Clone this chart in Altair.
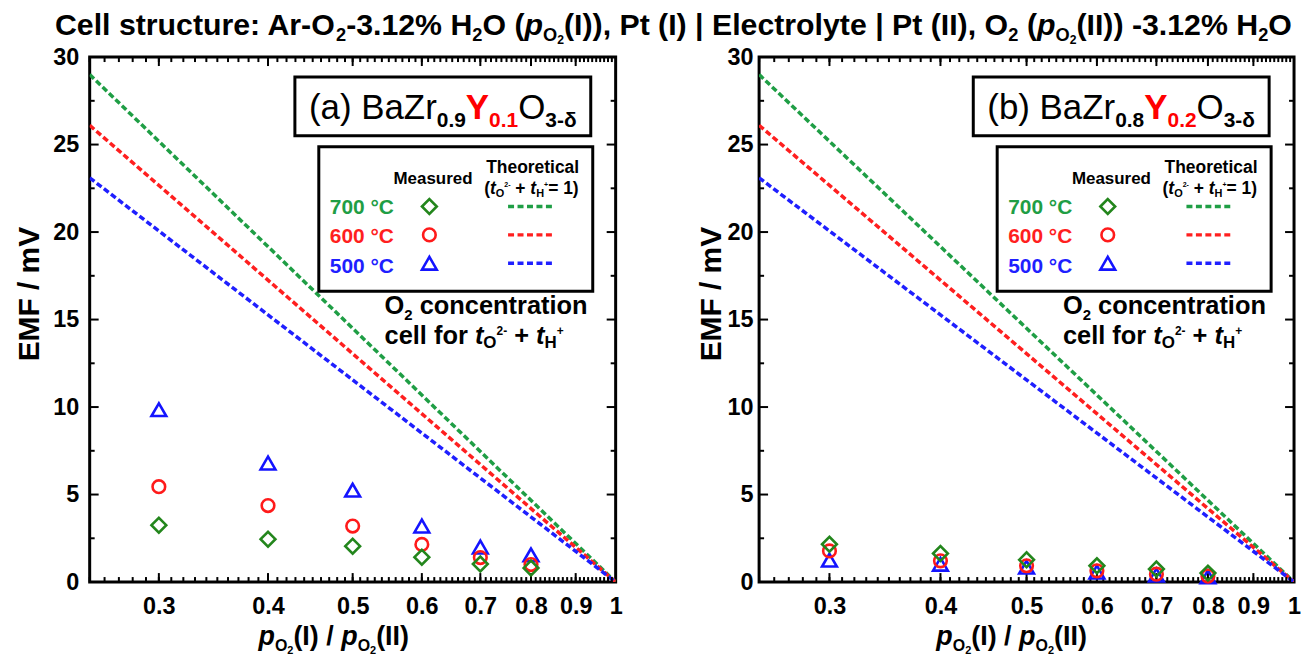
import altair as alt
import pandas as pd

FONT = "Liberation Sans"

# ---------------- data ----------------
RATIO = [0.3, 0.4, 0.5, 0.6, 0.7, 0.8]
A_700 = [3.25, 2.45, 2.05, 1.42, 1.03, 0.80]
A_600 = [5.45, 4.37, 3.20, 2.15, 1.40, 1.00]
A_500 = [9.85, 6.80, 5.25, 3.20, 2.00, 1.55]
B_700 = [2.16, 1.63, 1.27, 0.93, 0.74, 0.51]
B_600 = [1.78, 1.21, 0.93, 0.64, 0.45, 0.34]
B_500 = [1.25, 1.02, 0.85, 0.57, 0.40, 0.30]
THEO_X = [0.25, 1.0]
THEO_700 = [29.0, 0.0]
THEO_600 = [26.1, 0.0]
THEO_500 = [23.1, 0.0]
TEMPS = ["700", "600", "500"]
X_LABELS = [0.3, 0.4, 0.5, 0.6, 0.7, 0.8, 0.9, 1.0]
X_MAJOR_TICKS = [0.3, 0.4, 0.5, 0.6, 0.7, 0.8, 0.9]
X_MINOR_TICKS = [round(0.25 + 0.01 * i, 2) for i in range(75)]
Y_LABELS = [0, 5, 10, 15, 20, 25, 30]
Y_MAJOR_TICKS = [5, 10, 15, 20, 25]
Y_MINOR_TICKS = [2.5, 7.5, 12.5, 17.5, 22.5, 27.5]

LINE_COL = {"700": "#1f9e45", "600": "#ff1f1f", "500": "#1f1fff"}
MARK_COL = {"700": "#23861c", "600": "#ff1a1a", "500": "#1414ff"}
SHAPE = {"700": "diamond", "600": "circle", "500": "triangle-up"}
MSIZE = {"700": 220, "600": 160, "500": 220}

# ---------------- font metrics (Arial-compatible) ----------------
REG_W = {' ': 278, '!': 278, '%': 889, '(': 333, ')': 333, '+': 584, ',': 278, '-': 333, '.': 278,
         '/': 278, ':': 278, '=': 584, '|': 260, '°': 400, 'δ': 556,
         'A': 667, 'B': 667, 'C': 722, 'E': 667, 'F': 611, 'H': 722, 'I': 278, 'M': 833, 'O': 778,
         'P': 667, 'T': 611, 'V': 667, 'Y': 667, 'Z': 611,
         'a': 556, 'c': 500, 'd': 556, 'e': 556, 'f': 278, 'h': 556, 'i': 222, 'l': 222, 'm': 833,
         'n': 556, 'o': 556, 'p': 556, 'r': 333, 's': 500, 't': 278, 'u': 556, 'y': 500}
BOLD_W = {' ': 278, '!': 333, '%': 889, '(': 333, ')': 333, '+': 584, ',': 278, '-': 333, '.': 278,
          '/': 278, ':': 333, '=': 584, '|': 280, '°': 400, 'δ': 611,
          'A': 722, 'B': 722, 'C': 722, 'E': 667, 'F': 611, 'H': 722, 'I': 278, 'M': 833, 'O': 778,
          'P': 667, 'T': 611, 'V': 667, 'Y': 667, 'Z': 611,
          'a': 556, 'c': 556, 'd': 611, 'e': 556, 'f': 333, 'h': 611, 'i': 278, 'l': 278, 'm': 889,
          'n': 611, 'o': 611, 'p': 611, 'r': 389, 's': 556, 't': 333, 'u': 611, 'y': 556}


def tw(s, size, bold):
    t = BOLD_W if bold else REG_W
    return sum(t.get(c, 556) for c in s) * size / 1000.0


def run(segs, x0, y0, anchor="left"):
    """segs: (text, size, bold, italic, color, dy)"""
    widths = [tw(s[0], s[1], s[2]) for s in segs]
    total = sum(widths)
    x = x0 - total / 2 if anchor == "center" else x0
    rows = []
    for s, w in zip(segs, widths):
        txt = s[0]
        lead = len(txt) - len(txt.lstrip(" "))
        disp = txt.strip(" ")
        if disp:
            rows.append(dict(txt=disp, px=x + tw(" " * lead, s[1], s[2]), py=y0 + s[5],
                             fs=s[1], col=s[4], b=s[2], it=s[3]))
        x += w
    return rows


def text_layers(rows):
    df = pd.DataFrame(rows)
    out = []
    for (b, it), g in df.groupby(["b", "it"]):
        out.append(
            alt.Chart(g.reset_index(drop=True)).mark_text(
                align="left", baseline="alphabetic", font=FONT,
                fontWeight="bold" if b else "normal",
                fontStyle="italic" if it else "normal",
            ).encode(
                x=alt.X("px:Q", scale=None, axis=None),
                y=alt.Y("py:Q", scale=None, axis=None),
                text="txt:N",
                size=alt.Size("fs:Q", scale=None, legend=None),
                color=alt.Color("col:N", scale=None, legend=None),
            )
        )
    return out


K = "black"
H = 527
XS = alt.Scale(type="log", domain=[0.25, 1.0], nice=False)
YS = alt.Scale(domain=[0, 30], nice=False, zero=False)
XAX = alt.Axis(values=X_LABELS, format=".1~f", labelPadding=13, labelFlush=False,
               labelOverlap=False, title=None)
DUMMY = pd.DataFrame({"d": [0]})


def panel(W, meas, letter, zr, yv, title_rows, lab_pad, ytitle_x, xtitle_dx):
    YAX = alt.Axis(values=Y_LABELS, labelPadding=lab_pad, labelOverlap=False, title=None)
    layers = []
    theo = {"700": THEO_700, "600": THEO_600, "500": THEO_500}
    # theoretical dashed lines
    for t in TEMPS:
        df = pd.DataFrame({"x": THEO_X, "y": theo[t]})
        layers.append(alt.Chart(df).mark_line(strokeDash=[6, 3], strokeWidth=3.5, color=LINE_COL[t],
                                              clip=True)
                      .encode(x=alt.X("x:Q", scale=XS, axis=XAX), y=alt.Y("y:Q", scale=YS, axis=YAX)))
    # ticks (inward)
    for vals, ln in [(X_MAJOR_TICKS, 9), (X_MINOR_TICKS, 5)]:
        d = pd.DataFrame({"x": vals})
        layers.append(alt.Chart(d).mark_rule(color=K, strokeWidth=2)
                      .encode(x=alt.X("x:Q", scale=XS, axis=XAX), y=alt.value(H), y2=alt.value(H - ln)))
        layers.append(alt.Chart(d).mark_rule(color=K, strokeWidth=2)
                      .encode(x=alt.X("x:Q", scale=XS, axis=XAX), y=alt.value(0), y2=alt.value(ln)))
    for vals, ln in [(Y_MAJOR_TICKS, 9), (Y_MINOR_TICKS, 5)]:
        d = pd.DataFrame({"y": vals})
        layers.append(alt.Chart(d).mark_rule(color=K, strokeWidth=2)
                      .encode(y=alt.Y("y:Q", scale=YS, axis=YAX), x=alt.value(0), x2=alt.value(ln)))
        layers.append(alt.Chart(d).mark_rule(color=K, strokeWidth=2)
                      .encode(y=alt.Y("y:Q", scale=YS, axis=YAX), x=alt.value(W), x2=alt.value(W - ln)))
    # measured points (500 first, 700 on top)
    for t in ["500", "600", "700"]:
        df = pd.DataFrame({"x": RATIO, "y": meas[t]})
        layers.append(alt.Chart(df).mark_point(shape=SHAPE[t], filled=False, size=MSIZE[t],
                                               strokeWidth=2.6, color=MARK_COL[t], opacity=1)
                      .encode(x=alt.X("x:Q", scale=XS, axis=XAX), y=alt.Y("y:Q", scale=YS, axis=YAX)))
    # boxes
    for (x1, x2, y1, y2) in [(W - 322, W - 25, 20, 79), (W - 298, W - 23, 90, 235)]:
        layers.append(alt.Chart(DUMMY).mark_rect(fill="white", stroke=K, strokeWidth=3)
                      .encode(x=alt.value(x1), x2=alt.value(x2), y=alt.value(y1), y2=alt.value(y2)))
    # legend markers and dashes
    for i, t in enumerate(TEMPS):
        yy = 150 + 28.5 * i
        layers.append(alt.Chart(DUMMY).mark_point(shape=SHAPE[t], filled=False, size=MSIZE[t],
                                                  strokeWidth=2.6, color=MARK_COL[t], opacity=1)
                      .encode(x=alt.value(W - 187), y=alt.value(yy)))
        layers.append(alt.Chart(DUMMY).mark_rule(strokeDash=[6, 3.5], strokeWidth=3.5, color=LINE_COL[t])
                      .encode(x=alt.value(W - 108), x2=alt.value(W - 62), y=alt.value(yy)))
    # y axis title
    layers.append(alt.Chart(DUMMY).mark_text(text="EMF / mV", angle=270, align="center", baseline="middle",
                                             font=FONT, fontSize=30, fontWeight="bold", color=K)
                  .encode(x=alt.value(ytitle_x), y=alt.value(238)))
    # texts
    rows = list(title_rows)
    BIG, SUB = 35, 21
    rows += run([(f"({letter}) BaZr", BIG, False, False, K, 0),
                 (zr, SUB, True, False, K, 8),
                 ("Y", BIG, True, False, "#ff0000", 0),
                 (yv, SUB, True, False, "#ff0000", 8),
                 ("O", BIG, False, False, K, 0),
                 ("3-δ", SUB, True, False, K, 8)], W - 173.5, 62, "center")
    rows += run([("Measured", 17, True, False, K, 0)], W - 223, 127)
    rows += run([("Theoretical", 17.5, True, False, K, 0)], W - 130, 116)
    rows += run([("(", 17.5, True, False, K, 0), ("t", 17.5, True, True, K, 0), ("O", 11, True, False, K, 3),
                 ("2-", 7, True, False, K, -7), (" + ", 17.5, True, False, K, 0), ("t", 17.5, True, True, K, 0),
                 ("H", 11, True, False, K, 3), ("+", 7, True, False, K, -7), ("= 1)", 17.5, True, False, K, 0)],
                W - 132, 137)
    for i, t in enumerate(TEMPS):
        rows += run([(f"{t} °C", 21, True, False, LINE_COL[t], 0)], W - 287, 157.5 + 29.5 * i)
    rows += run([("O", 25.5, True, False, K, 0), ("2", 15, True, False, K, 6),
                 (" concentration", 25.5, True, False, K, 0)], W - 232, 258)
    rows += run([("cell for ", 25.5, True, False, K, 0), ("t", 25.5, True, True, K, 0),
                 ("O", 17, True, False, K, 4), ("2-", 12, True, False, K, -9),
                 (" + ", 25.5, True, False, K, 0), ("t", 25.5, True, True, K, 0),
                 ("H", 17, True, False, K, 4), ("+", 12, True, False, K, -9)], W - 232, 288)
    rows += run([("p", 27, True, True, K, 0), ("O", 16, True, False, K, 6), ("2", 11, True, False, K, 9),
                 ("(I) / ", 27, True, False, K, 0), ("p", 27, True, True, K, 0), ("O", 16, True, False, K, 6),
                 ("2", 11, True, False, K, 9), ("(II)", 27, True, False, K, 0)],
                W / 2 + xtitle_dx, H + 63, "center")
    layers += text_layers(rows)
    return alt.layer(*layers).properties(width=W, height=H)


T, TS, TSS = 30.4, 18.3, 12.2
title_rows = run([
    ("Cell structure: Ar-O", T, True, False, K, 0), ("2", TS, True, False, K, 6),
    ("-3.12% H", T, True, False, K, 0), ("2", TS, True, False, K, 6),
    ("O (", T, True, False, K, 0), ("p", T, True, True, K, 0),
    ("O", TS, True, False, K, 6), ("2", TSS, True, False, K, 9),
    ("(I)), Pt (I) | Electrolyte | Pt (II), O", T, True, False, K, 0), ("2", TS, True, False, K, 6),
    (" (", T, True, False, K, 0), ("p", T, True, True, K, 0),
    ("O", TS, True, False, K, 6), ("2", TSS, True, False, K, 9),
    ("(II)) -3.12% H", T, True, False, K, 0), ("2", TS, True, False, K, 6),
    ("O", T, True, False, K, 0)], 586, -22, "center")

pa = panel(528, {"700": A_700, "600": A_600, "500": A_500}, "a", "0.9", "0.1", title_rows, 11, -60, -19)
pb = panel(537, {"700": B_700, "600": B_600, "500": B_500}, "b", "0.8", "0.2", [], 6, -47, -15)

chart = alt.hconcat(pa, pb, spacing=144, bounds="flush").properties(
    padding={"left": 5, "top": 0, "right": 0, "bottom": 0}
).configure_view(
    stroke="black", strokeWidth=3
).configure_axis(
    labelFont=FONT, labelFontSize=23.5, labelFontWeight="bold", labelColor="black",
    ticks=False, tickSize=0, domain=False, grid=False,
)

chart.save("out.html", embed_options={"renderer": "svg", "actions": False})
